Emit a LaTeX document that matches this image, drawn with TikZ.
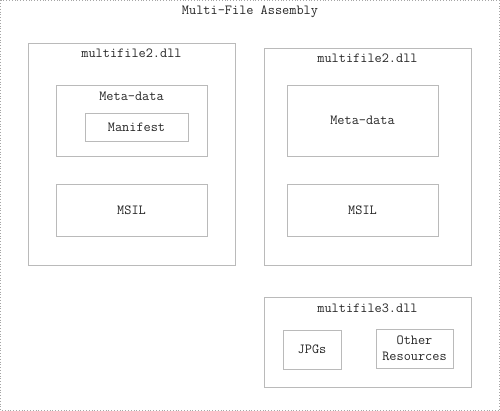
\documentclass[tikz,border=0pt]{standalone}

\begin{document}
\begin{tikzpicture}[x=1pt,y=-1pt,
  box/.style={draw=black!27, line width=0.8pt, inner sep=0pt},
  lbl/.style={font=\ttfamily\fontsize{13.9}{16}\selectfont, text=black!85, align=center}]
\useasboundingbox (0,0) rectangle (500,411);
% ---- outer frame ----
\draw[black!35, dotted, line width=0.8pt] (0.5,0.5) rectangle (499.5,410.5);
\node[lbl] (title) at (250,12) {Multi-File Assembly};
% ---- first module ----
\node[box, minimum width=207pt, minimum height=222pt] (dllA) at (131.5,154) {};
\node[lbl] (dllAname) at (131.5,53) {multifile2.dll};
\node[box, minimum width=151pt, minimum height=71pt] (metaA) at (131.5,120.5) {};
\node[lbl] (metaAname) at (131.5,96) {Meta-data};
\node[box, lbl, minimum width=103pt, minimum height=28pt] (manifest) at (136.5,127) {Manifest};
\node[box, lbl, minimum width=151pt, minimum height=52pt] (msilA) at (131.5,210) {MSIL};
% ---- second module ----
\node[box, minimum width=207pt, minimum height=217pt] (dllB) at (367.5,156.5) {};
\node[lbl] (dllBname) at (367.5,58) {multifile2.dll};
\node[box, lbl, minimum width=151pt, minimum height=71pt] (metaB) at (362.5,120.5) {Meta-data};
\node[box, lbl, minimum width=151pt, minimum height=52pt] (msilB) at (362.5,210) {MSIL};
% ---- resource module ----
\node[box, minimum width=207pt, minimum height=90pt] (dllC) at (367.5,342) {};
\node[lbl] (dllCname) at (367.5,308) {multifile3.dll};
\node[box, lbl, minimum width=58pt, minimum height=39pt] (jpgs) at (312,349.5) {JPGs};
\node[box, lbl, minimum width=77pt, minimum height=39pt] (other) at (414.5,348.5) {Other\\Resources};
\end{tikzpicture}
\end{document}
